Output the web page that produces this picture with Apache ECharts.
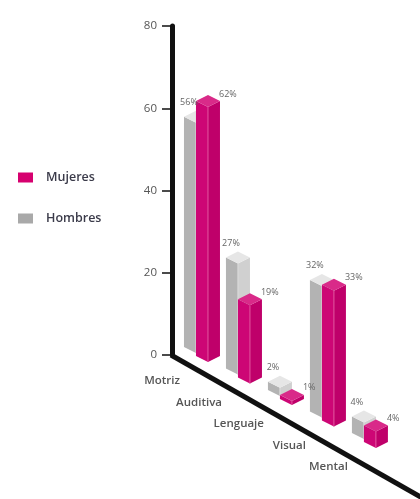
<!DOCTYPE html>
<html>
<head>
<meta charset="utf-8">
<script src="https://cdn.jsdelivr.net/npm/echarts@6/dist/echarts.min.js"></script>
<style>
  html, body { margin: 0; padding: 0; background: #ffffff; }
  #chart { width: 420px; height: 499px; }
</style>
</head>
<body>
<div id="chart"></div>
<script>
// Discapacidad por tipo y sexo (%)
const categories = ['Motriz', 'Auditiva', 'Lenguaje', 'Visual', 'Mental'];
const hombres = [56, 27, 2, 32, 4];
const mujeres = [62, 19, 1, 33, 4];
const yTicks = [0, 20, 40, 60, 80];

const FONT = '"Open Sans", "DejaVu Sans", sans-serif';
const X_MIN = -0.857, X_MAX = 5.05;   // depth axis range (category index units)
const SLOPE = 0.512;                  // floor drop per px of depth for the bar rows
const FLOOR_SLOPE = 0.571;            // slope of the drawn floor edge
const DROP0 = 7;                      // front row sits slightly below the axis origin
const HALF = 12;                      // half width of a prism
const CAP = 6;                        // vertical depth of the top diamond

const rows = {
  Hombres: { dx: -12, dy: -9, left: '#b3b3b3', right: '#d0d0d0', top: '#e6e6e6', edge: '#dcdcdc', z: 0, legend: '#a9a9a9' },
  Mujeres: { dx: 0, dy: 0, left: '#cd0675', right: '#bf006a', top: '#d92a89', edge: '#e2559f', z: 5, legend: '#d6006f' }
};

function floorBase(api, idx) {
  const o = api.coord([0, 0]);
  const p = api.coord([idx, 0]);
  return [p[0], p[1] + DROP0 + SLOPE * (p[0] - o[0])];
}

function prismRenderer(name) {
  const row = rows[name];
  return function (params, api) {
    const idx = api.value(0);
    const val = api.value(1);
    const zero = api.coord([idx, 0]);
    const top = api.coord([idx, val]);
    const base = floorBase(api, idx);
    const cx = base[0] + row.dx;
    const by = base[1] + row.dy;
    const ty = by - (zero[1] - top[1]);
    const L = cx - HALF, R = cx + HALF;
    const z2 = idx * 10 + row.z;
    const label = name === 'Mujeres'
      ? { x: R - 1, y: ty - 2 * CAP - 1, align: 'left' }
      : { x: cx - 7, y: ty - 2 * CAP - 8, align: 'center' };
    return {
      type: 'group',
      children: [
        { type: 'polygon', z2: z2, shape: { points: [[L, by - CAP], [cx, by], [cx, ty], [L, ty - CAP]] }, style: { fill: row.left } },
        { type: 'polygon', z2: z2, shape: { points: [[cx, by], [R, by - CAP], [R, ty - CAP], [cx, ty]] }, style: { fill: row.right } },
        { type: 'polygon', z2: z2 + 1, shape: { points: [[cx, ty], [L, ty - CAP], [cx, ty - 2 * CAP], [R, ty - CAP]] }, style: { fill: row.top } },
        { type: 'line', z2: z2 + 1, shape: { x1: cx, y1: ty, x2: cx, y2: by }, style: { stroke: row.edge, lineWidth: 1 } },
        { type: 'text', z2: 100, style: {
            text: val + '%', x: label.x, y: label.y, align: label.align, verticalAlign: 'middle',
            font: '9px ' + FONT, fill: '#666666' } }
      ]
    };
  };
}

function floorRenderer(params, api) {
  const idx = api.value(0);
  const base = floorBase(api, idx);
  const children = [{
    type: 'text', z2: 50,
    style: { text: categories[idx], x: base[0] - 28, y: base[1] + 19, align: 'right', verticalAlign: 'middle',
             font: '600 11.5px ' + FONT, fill: '#555555' }
  }];
  if (idx === 0) {
    const o = api.coord([X_MIN, 0]);
    const x2 = o[0] + 260;
    children.push({
      type: 'line', z2: -1,
      shape: { x1: o[0] - 1, y1: o[1], x2: x2, y2: o[1] + FLOOR_SLOPE * (x2 - o[0]) },
      style: { stroke: '#111111', lineWidth: 5 }
    });
  }
  return { type: 'group', children: children };
}

const chart = echarts.init(document.getElementById('chart'));
chart.setOption({
  animation: false,
  backgroundColor: '#ffffff',
  legend: {
    data: ['Mujeres', 'Hombres'],
    orient: 'vertical',
    left: 13, top: 166,
    itemWidth: 15, itemHeight: 10, itemGap: 28,
    icon: 'rect',
    textStyle: { fontFamily: FONT, fontSize: 12.5, fontWeight: 600, color: '#3b3b4a', padding: [0, 0, 0, 8] }
  },
  grid: { left: 172, right: 0, top: 26, bottom: 144 },
  xAxis: { type: 'value', min: X_MIN, max: X_MAX, show: false },
  yAxis: {
    type: 'value', position: 'left',
    min: yTicks[0], max: yTicks[yTicks.length - 1], interval: yTicks[1] - yTicks[0],
    axisLine: { show: true, onZero: false, lineStyle: { color: '#111111', width: 5 } },
    axisTick: { show: true, length: 10, lineStyle: { color: '#111111', width: 1.5 } },
    axisLabel: { margin: 15, fontFamily: FONT, fontSize: 11.5, color: '#555555' },
    splitLine: { show: false }
  },
  series: [
    { type: 'custom', name: 'floor', data: categories.map((c, i) => [i]), renderItem: floorRenderer, silent: true },
    { type: 'custom', name: 'Hombres', itemStyle: { color: rows.Hombres.legend },
      data: hombres.map((v, i) => [i, v]), renderItem: prismRenderer('Hombres') },
    { type: 'custom', name: 'Mujeres', itemStyle: { color: rows.Mujeres.legend },
      data: mujeres.map((v, i) => [i, v]), renderItem: prismRenderer('Mujeres') }
  ]
});
</script>
</body>
</html>
